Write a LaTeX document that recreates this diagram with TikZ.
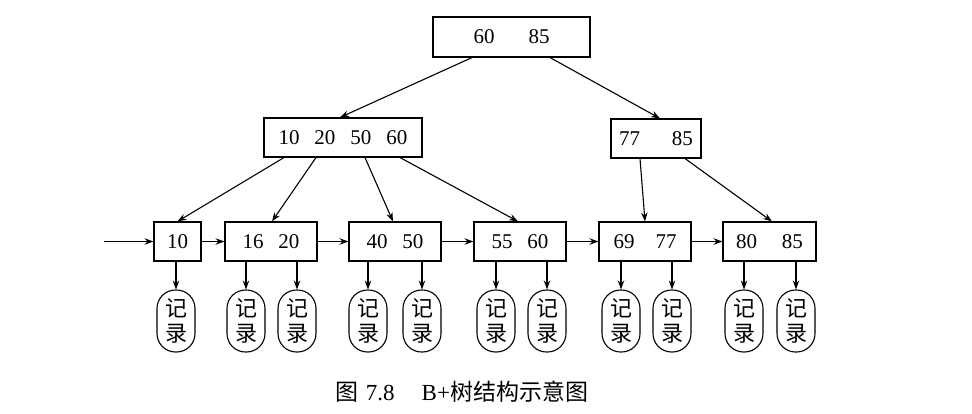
\documentclass[tikz,border=0pt]{standalone}
\usepackage{fontspec}
\setmainfont{Liberation Serif}
\newfontfamily\cjk{Noto Sans CJK SC}
\usetikzlibrary{arrows.meta}
\begin{document}
\begin{tikzpicture}[x=1pt,y=-1pt,
  line width=1.1pt,
  box/.style={draw,rectangle,inner sep=0pt,minimum height=39pt,font=\fontsize{21}{24}\selectfont},
  rec/.style={draw,rectangle,rounded corners=18.5pt,minimum width=38pt,minimum height=62pt,inner sep=0pt,align=center,font=\cjk\fontsize{22}{25}\selectfont},
  arr/.style={-{Stealth[length=9pt,width=6.5pt,inset=3pt]}}
]
\useasboundingbox (0,0) rectangle (972,413);
% internal nodes
\node[box,minimum width=157pt,minimum height=40pt] (root) at (511.5,37) {60\hspace{34pt}85};
\node[box,minimum width=158pt] (L1) at (343,137.5) {10\hspace{15pt}20\hspace{15pt}50\hspace{15pt}60};
\node[box,minimum width=90pt] (L2) at (656,138.5) {77\hspace{32pt}85};
% leaves
\node[box,minimum width=47pt] (a) at (177.5,241.5) {10};
\node[box,minimum width=92pt] (b) at (271,241.5) {16\hspace{15pt}20};
\node[box,minimum width=92pt] (c) at (395,241.5) {40\hspace{15pt}50};
\node[box,minimum width=92pt] (d) at (520,241.5) {55\hspace{15pt}60};
\node[box,minimum width=92pt] (e) at (645,241.5) {69\hspace{21pt}77};
\node[box,minimum width=93pt] (f) at (769.5,241.5) {80\hspace{25pt}85};
\coordinate (in) at (104,241.5);
% records
\foreach \n/\x in {r1/176,r2/246,r3/297,r4/368,r5/422,r6/496,r7/547,r8/621,r9/672,r10/744,r11/796}{
  \node[rec] (\n) at (\x,321) {记\\录};
}
% tree arrows
\draw[arr] ([xshift=-39.5pt]root.south) -- ([xshift=-3pt]L1.north);
\draw[arr] ([xshift=38.5pt]root.south) -- ([xshift=4pt]L2.north);
\draw[arr] ([xshift=-59pt]L1.south) -- (a.north);
\draw[arr] ([xshift=-27pt]L1.south) -- ([xshift=1pt]b.north);
\draw[arr] ([xshift=22pt]L1.south) -- ([xshift=-2pt]c.north);
\draw[arr] ([xshift=57pt]L1.south) -- ([xshift=-2pt]d.north);
\draw[arr] ([xshift=-16pt]L2.south) -- (e.north);
\draw[arr] ([xshift=29pt]L2.south) -- ([xshift=2.5pt]f.north);
% leaf links
\draw[arr] (in) -- (a.west);
\draw[arr] (a) -- (b);
\draw[arr] (b) -- (c);
\draw[arr] (c) -- (d);
\draw[arr] (d) -- (e);
\draw[arr] (e) -- (f);
% record arrows
\draw[arr] (r1 |- a.south) -- (r1.north);
\draw[arr] (r2 |- b.south) -- (r2.north);
\draw[arr] (r3 |- b.south) -- (r3.north);
\draw[arr] (r4 |- c.south) -- (r4.north);
\draw[arr] (r5 |- c.south) -- (r5.north);
\draw[arr] (r6 |- d.south) -- (r6.north);
\draw[arr] (r7 |- d.south) -- (r7.north);
\draw[arr] (r8 |- e.south) -- (r8.north);
\draw[arr] (r9 |- e.south) -- (r9.north);
\draw[arr] (r10 |- f.south) -- (r10.north);
\draw[arr] (r11 |- f.south) -- (r11.north);
% caption
\node[font=\fontsize{23}{27}\selectfont,inner sep=0pt] (cap) at (462,392) {{\cjk 图}\hspace{7pt}7.8\hspace{27pt}B+{\cjk 树结构示意图}};
\end{tikzpicture}
\end{document}
